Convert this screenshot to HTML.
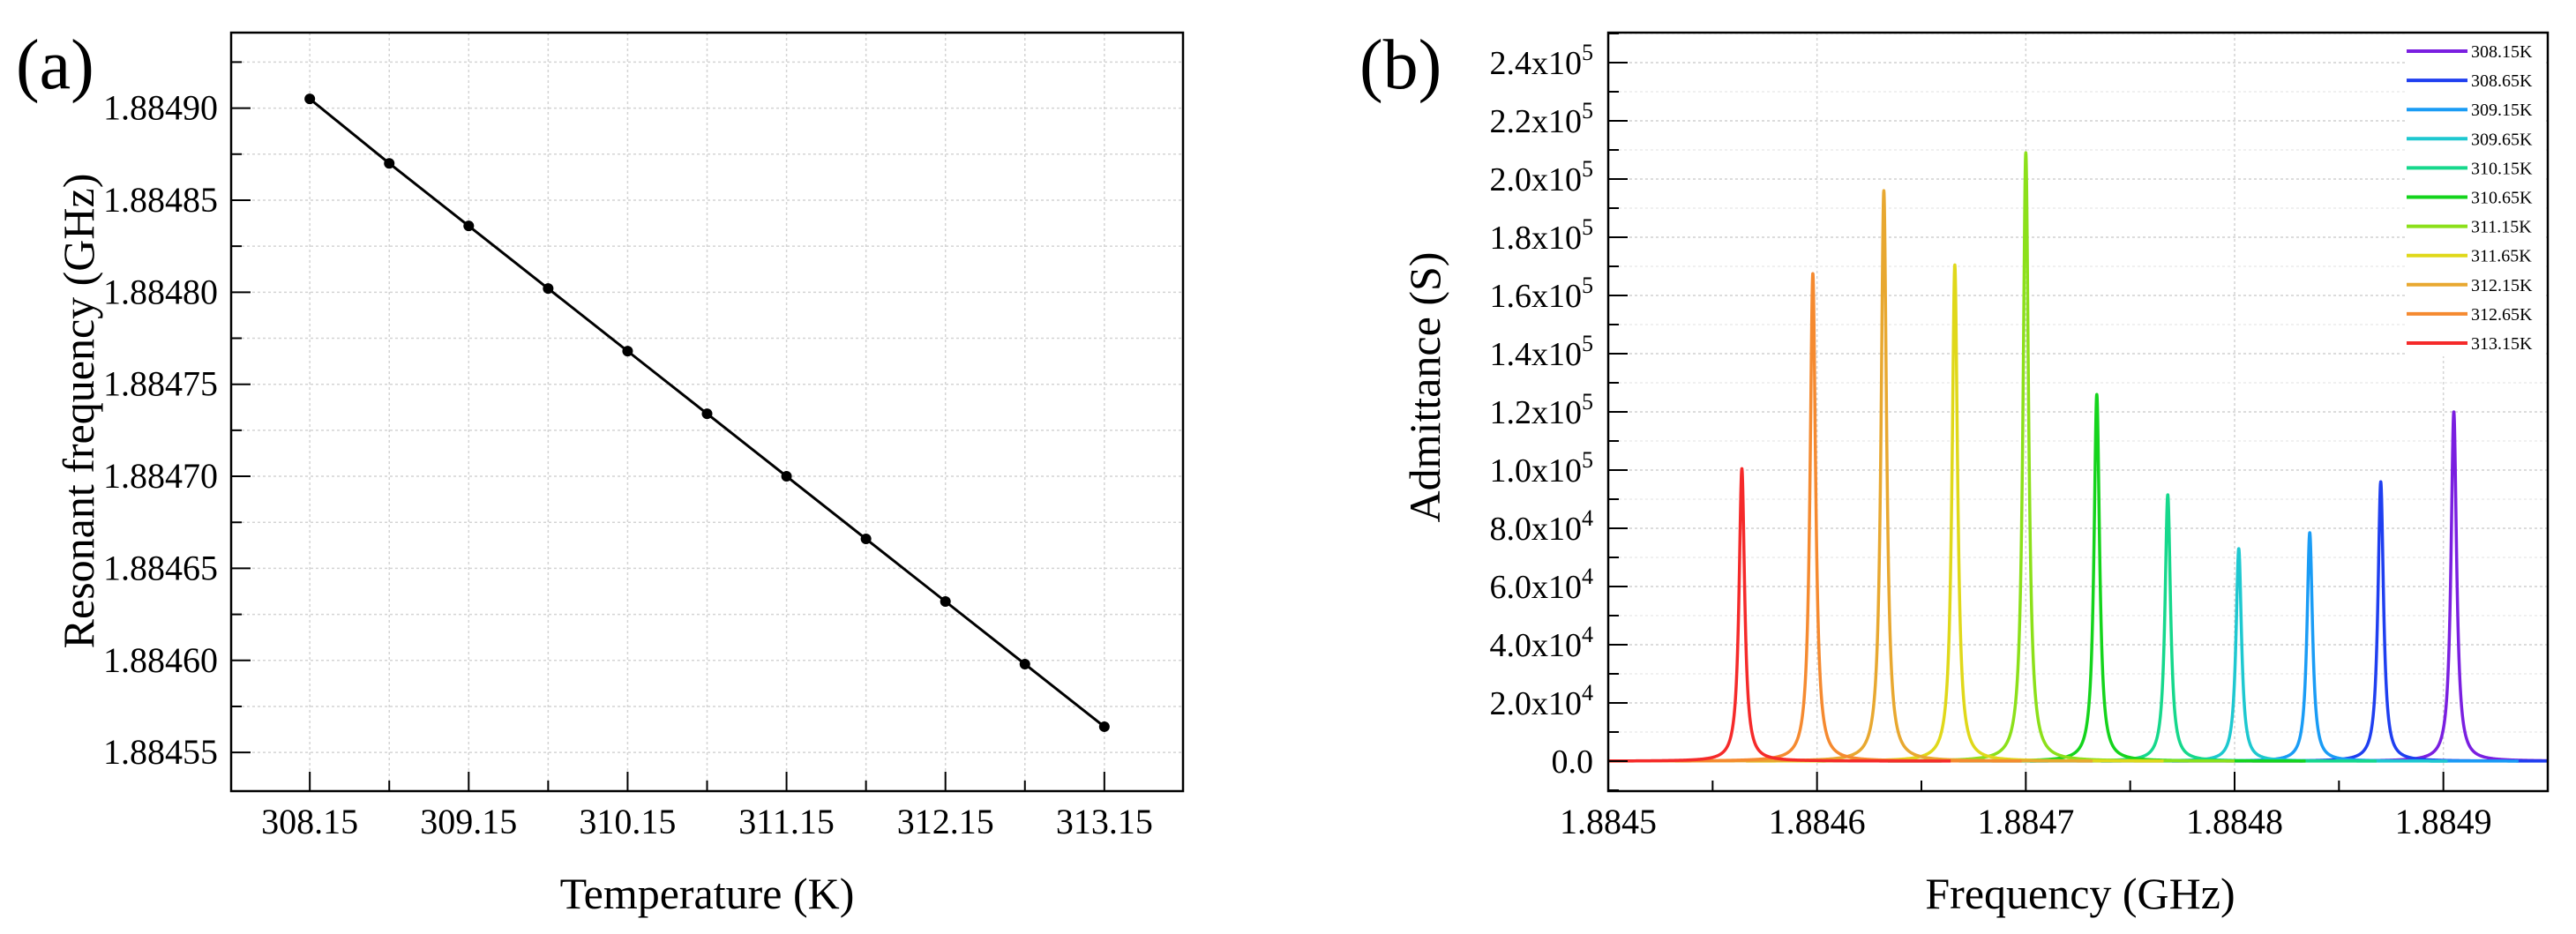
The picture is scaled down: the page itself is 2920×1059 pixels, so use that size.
<!DOCTYPE html>
<html><head><meta charset="utf-8">
<style>
html,body{margin:0;padding:0;background:#fff;}
svg{display:block;font-family:"Liberation Serif",serif;}
</style></head>
<body>
<svg id="fig" width="2920" height="1059" viewBox="0 0 2920 1059" xmlns="http://www.w3.org/2000/svg">
<rect width="2920" height="1059" fill="#fff"/>
<text x="18" y="100" font-size="80">(a)</text>
<text x="1541" y="100" font-size="80">(b)</text>
<g id="chartA"></g>
<g id="chartB"></g>
</svg>
<script>
// ---- Chart A data ----
const tempsA = [308.15,308.65,309.15,309.65,310.15,310.65,311.15,311.65,312.15,312.65,313.15];
const resFreqA = [1.884905,1.884870,1.884836,1.884802,1.884768,1.884734,1.884700,1.884666,1.884632,1.884598,1.884564];
const xTicksA = [308.15,309.15,310.15,311.15,312.15,313.15];
const yTicksA = [1.88455,1.88460,1.88465,1.88470,1.88475,1.88480,1.88485,1.88490];
// ---- Chart B data ----
const seriesLabelsB = ["308.15K","308.65K","309.15K","309.65K","310.15K","310.65K","311.15K","311.65K","312.15K","312.65K","313.15K"];
const seriesColorsB = ["#7a1fe0","#1f3ff0","#1a9cf5","#1ec8d0","#16d88c","#14d41c","#8ce01a","#e0d81a","#e8a830","#f58a30","#f52a2a"];
const peakFreqB = [1.884905,1.884870,1.884836,1.884802,1.884768,1.884734,1.884700,1.884666,1.884632,1.884598,1.884564];
const peakAdmB = [120000,96000,78500,73000,91500,126000,209000,170500,196000,167500,100500];
const xTicksB = [1.8845,1.8846,1.8847,1.8848,1.8849];
const xTickLabelsB = ["1.8845","1.8846","1.8847","1.8848","1.8849"];
const yTicksB = [0,20000,40000,60000,80000,100000,120000,140000,160000,180000,200000,220000,240000];
const yTickMantB = ["0.0","2.0","4.0","6.0","8.0","1.0","1.2","1.4","1.6","1.8","2.0","2.2","2.4"];
const yTickExpB = ["","4","4","4","4","5","5","5","5","5","5","5","5"];

const NS="http://www.w3.org/2000/svg";
function mk(tag,attrs,parent){const e=document.createElementNS(NS,tag);for(const k in attrs)e.setAttribute(k,attrs[k]);parent.appendChild(e);return e;}

// ===== Chart A =====
(function(){
const g=document.getElementById('chartA');
const L=262,R=1341,T=37,B=897;
const x0=307.655,x1=313.645,y0=1.884529,y1=1.884941;
const sx=v=>L+(v-x0)/(x1-x0)*(R-L);
const sy=v=>B-(v-y0)/(y1-y0)*(B-T);
// grid (major + minor)
for(let i=0;i<xTicksA.length*2;i++){const v=xTicksA[0]+i*0.5;if(v>x1)break;
 const l=mk('line',{x1:sx(v),x2:sx(v),y1:T,y2:B,stroke:'#d4d4d4','stroke-width':1.5,'stroke-dasharray':'3 3'},g);
 }
for(let i=0;i<yTicksA.length*2;i++){const v=yTicksA[0]+i*0.000025;if(v>y1)break;
 const l=mk('line',{x1:L,x2:R,y1:sy(v),y2:sy(v),stroke:'#d4d4d4','stroke-width':1.5,'stroke-dasharray':'3 3'},g);
 }
// frame
const fr=mk('rect',{x:L,y:T,width:R-L,height:B-T,fill:'none',stroke:'#000','stroke-width':2.5},g);

// ticks
for(let i=0;i<xTicksA.length*2;i++){const v=xTicksA[0]+i*0.5;if(v>x1)break;const len=i%2?12:22;
 mk('line',{x1:sx(v),x2:sx(v),y1:B,y2:B-len,stroke:'#000','stroke-width':2},g);}
for(let i=0;i<yTicksA.length*2;i++){const v=yTicksA[0]+i*0.000025;if(v>y1)break;const len=i%2?12:22;
 mk('line',{x1:L,x2:L+len,y1:sy(v),y2:sy(v),stroke:'#000','stroke-width':2},g);}
xTicksA.forEach(v=>{const t=mk('text',{x:sx(v),y:945,'font-size':40,'text-anchor':'middle'},g);t.textContent=v.toFixed(2);
 });
yTicksA.forEach(v=>{const t=mk('text',{x:247,y:sy(v)+13,'font-size':40,'text-anchor':'end'},g);t.textContent=v.toFixed(5);
 });
const xt=mk('text',{x:sx(310.65),y:1030,'font-size':50,'text-anchor':'middle'},g);xt.textContent='Temperature (K)';

const yt=mk('text',{x:0,y:0,'font-size':50,'text-anchor':'middle',transform:'translate(106,466) rotate(-90)'},g);yt.textContent='Resonant frequency (GHz)';

// line
const pl=mk('polyline',{points:tempsA.map((t,i)=>sx(t)+','+sy(resFreqA[i])).join(' '),fill:'none',stroke:'#000','stroke-width':3},g);

tempsA.forEach((t,i)=>{const c=mk('circle',{cx:sx(t),cy:sy(resFreqA[i]),r:6,fill:'#000'},g);
 });
})();

// ===== Chart B =====
(function(){
const g=document.getElementById('chartB');
const L=1823,R=2888,T=37,B=897;
const x0=1.8845,x1=1.884950,y0=-10300,y1=250300;
const sx=v=>L+(v-x0)/(x1-x0)*(R-L);
const sy=v=>B-(v-y0)/(y1-y0)*(B-T);
const cp=mk('clipPath',{id:'clipB'},g);mk('rect',{x:L,y:T,width:R-L,height:B-T},cp);
// grid
xTicksB.forEach(v=>{const l=mk('line',{x1:sx(v),x2:sx(v),y1:T,y2:B,stroke:'#d4d4d4','stroke-width':1.5,'stroke-dasharray':'3 3'},g);
 });
for(let i=0;i<yTicksB.length*2;i++){const v=i*10000;if(v>y1)break;
 const l=mk('line',{x1:L,x2:R,y1:sy(v),y2:sy(v),stroke:i%2?'#ececec':'#d0d0d0','stroke-width':1.5,'stroke-dasharray':'3 3'},g);
 }
// curves
const cg=mk('g',{'clip-path':'url(#clipB)'},g);
const gam=0.0000016;
peakFreqB.forEach((f,i)=>{
 const pts=[];const lo=f-0.0001,hi=f+0.0001;
 const N=500;
 for(let k=0;k<=N;k++){const u=(k/N)*2-1;const d=Math.sign(u)*Math.pow(Math.abs(u),3)*0.0001;const x=f+d;
  const y=peakAdmB[i]/(1+(d/gam)*(d/gam));pts.push(sx(x).toFixed(2)+','+sy(y).toFixed(2));}
 const p=mk('polyline',{points:pts.join(' '),fill:'none',stroke:seriesColorsB[i],'stroke-width':3.5,'stroke-linejoin':'round'},cg);
 
 
});
// legend
const lg=mk('g',{},g);

mk('rect',{x:2726,y:38,width:160,height:366,fill:'#fff'},lg);
seriesLabelsB.forEach((s,i)=>{const y=58+i*33.1;
 const ln=mk('line',{x1:2728,x2:2797,y1:y,y2:y,stroke:seriesColorsB[i],'stroke-width':4},lg);
 
 const t=mk('text',{x:2801,y:y+7,'font-size':20},lg);t.textContent=s;
 });
// frame
const fr=mk('rect',{x:L,y:T,width:R-L,height:B-T,fill:'none',stroke:'#000','stroke-width':2.5},g);

// ticks
for(let i=0;i<=9;i++){const v=1.8845+i*0.00005;if(v>x1+1e-9)break;const len=i%2?12:22;
 mk('line',{x1:sx(v),x2:sx(v),y1:B,y2:B-len,stroke:'#000','stroke-width':2},g);}
for(let i=-1;i<=25;i++){const v=i*10000;if(v>y1)break;const len=i%2?12:22;
 mk('line',{x1:L,x2:L+len,y1:sy(v),y2:sy(v),stroke:'#000','stroke-width':2},g);}
xTicksB.forEach((v,i)=>{const t=mk('text',{x:sx(v),y:945,'font-size':40,'text-anchor':'middle'},g);t.textContent=xTickLabelsB[i];
 });
yTicksB.forEach((v,i)=>{const t=mk('text',{x:1806,y:sy(v)+13,'font-size':38,'text-anchor':'end'},g);
 if(yTickExpB[i]){t.textContent=yTickMantB[i]+'x10';const sp=mk('tspan',{dy:-16,'font-size':26},t);sp.textContent=yTickExpB[i];}
 else t.textContent=yTickMantB[i];
 });
const xt=mk('text',{x:2358,y:1030,'font-size':50,'text-anchor':'middle'},g);xt.textContent='Frequency (GHz)';

const yt=mk('text',{x:0,y:0,'font-size':50,'text-anchor':'middle',transform:'translate(1632,439) rotate(-90)'},g);yt.textContent='Admittance (S)';

})();
</script>
</body></html>
